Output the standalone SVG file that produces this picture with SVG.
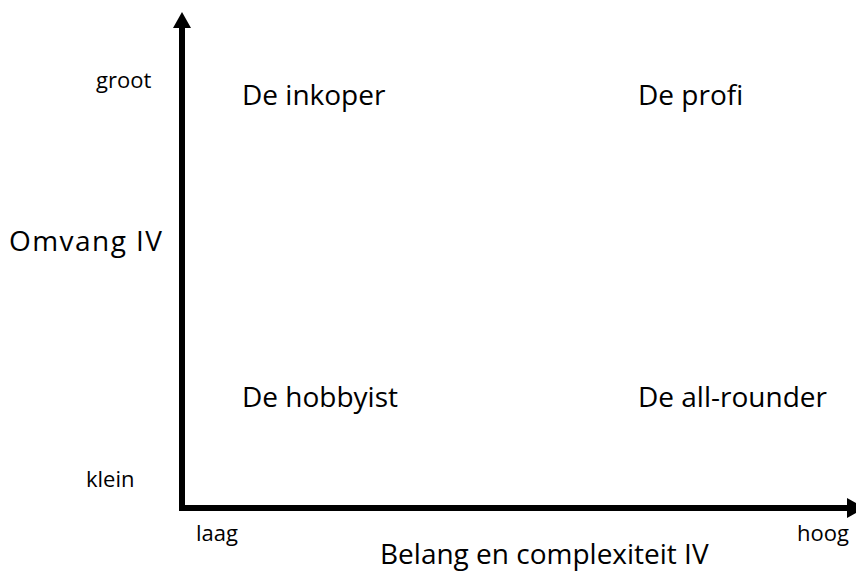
<svg xmlns="http://www.w3.org/2000/svg" width="856" height="572" viewBox="0 0 856 572">
<style>
.big{font-family:"Open Sans","Liberation Sans",sans-serif;font-size:28px;fill:#000}
.small{font-family:"Open Sans","Liberation Sans",sans-serif;font-size:22px;fill:#000}
.axis{stroke:#000;stroke-width:6;fill:none}
</style>
<rect width="856" height="572" fill="#fff"/>
<g id="axes">
<line class="axis" x1="182" y1="26" x2="182" y2="511"/>
<line class="axis" x1="179" y1="508" x2="848" y2="508"/>
<polygon points="173,28 182,12 191,28" fill="#000"/>
<polygon points="847,498 865,508 847,518" fill="#000"/>
</g>
<g id="y-labels">
<text class="small" x="96" y="88">groot</text>
<text class="big" x="9" y="251" textLength="153" lengthAdjust="spacing">Omvang IV</text>
<text class="small" x="86" y="487">klein</text>
</g>
<g id="x-labels">
<text class="small" x="196" y="541">laag</text>
<text class="small" x="797" y="541">hoog</text>
<text class="big" x="380" y="564">Belang en complexiteit IV</text>
</g>
<g id="q-inkoper"><text class="big" x="242" y="105">De inkoper</text></g>
<g id="q-profi"><text class="big" x="638" y="105">De profi</text></g>
<g id="q-hobbyist"><text class="big" x="242" y="407">De hobbyist</text></g>
<g id="q-allrounder"><text class="big" x="638" y="407">De all-rounder</text></g>
</svg>
